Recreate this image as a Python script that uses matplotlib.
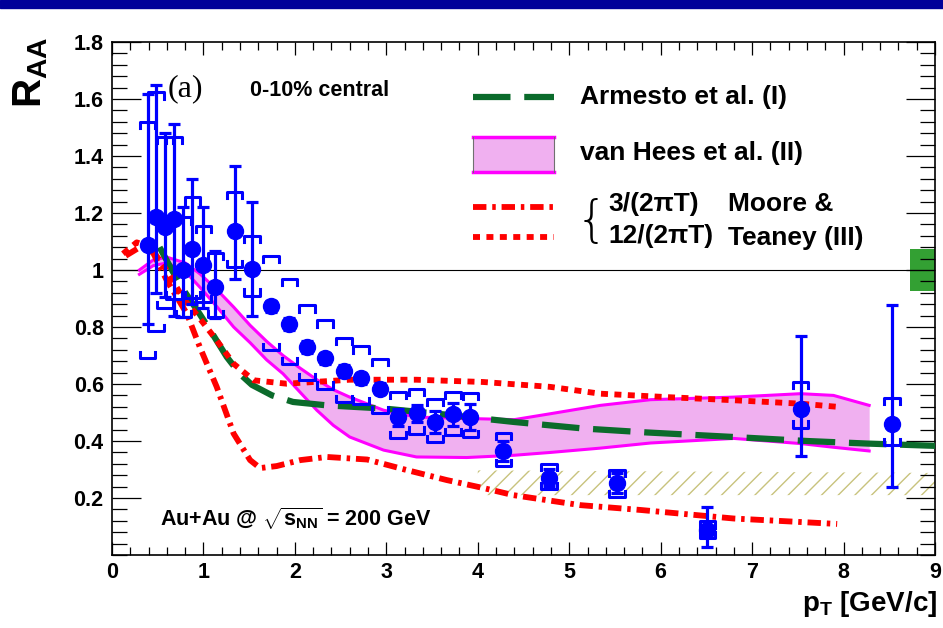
import matplotlib
matplotlib.use('Agg')
import matplotlib.pyplot as plt
from matplotlib.patches import Rectangle
from matplotlib.ticker import MultipleLocator

# ---- data ----
pt = [0.39, 0.48, 0.58, 0.68, 0.78, 0.88, 1.00, 1.13, 1.34, 1.53, 1.74, 1.94, 2.13, 2.33,
      2.54, 2.72, 2.93, 3.13, 3.33, 3.53, 3.73, 3.92, 4.28, 4.78, 5.52, 6.51, 7.53, 8.53]
raa = [1.086, 1.185, 1.150, 1.180, 1.000, 1.074, 1.016, 0.940, 1.138, 1.004, 0.872, 0.810, 0.730, 0.690,
       0.645, 0.620, 0.584, 0.484, 0.498, 0.467, 0.494, 0.484, 0.364, 0.271, 0.251, 0.088, 0.514, 0.459]
stat_up = [0.532, 0.465, 0.330, 0.334, 0.220, 0.246, 0.204, 0.128, 0.228, 0.233, 0.02, 0.02, 0.02, 0.02,
           0.02, 0.02, 0.02, 0.03, 0.03, 0.04, 0.04, 0.045, 0.035, 0.03, 0.035, 0.079, 0.253, 0.417]
stat_dn = [0.276, 0.265, 0.245, 0.340, 0.165, 0.194, 0.151, 0.110, 0.168, 0.164, 0.02, 0.02, 0.02, 0.02,
           0.02, 0.02, 0.02, 0.03, 0.03, 0.04, 0.04, 0.045, 0.035, 0.03, 0.035, 0.061, 0.167, 0.220]
syst_up = [0.434, 0.438, 0.317, 0.287, 0.185, 0.181, 0.140, 0.120, 0.135, 0.116, 0.178, 0.160, 0.146, 0.133,
           0.117, 0.112, 0.105, 0.088, 0.086, 0.082, 0.078, 0.085, 0.064, 0.050, 0.047, 0.030, 0.093, 0.093]
syst_dn = [0.396, 0.400, 0.285, 0.280, 0.165, 0.174, 0.129, 0.105, 0.128, 0.094, 0.154, 0.140, 0.117, 0.106,
           0.108, 0.091, 0.086, 0.075, 0.072, 0.070, 0.074, 0.070, 0.052, 0.041, 0.047, 0.030, 0.067, 0.074]

# Armesto et al. (I)
arm_x = [0.52, 0.74, 0.96, 1.11, 1.255, 1.40, 1.53, 1.75, 1.98, 2.35, 2.97, 3.55, 4.39, 5.15, 5.85, 6.80, 7.60, 8.26, 9.0]
arm_y = [1.08, 0.95, 0.845, 0.770, 0.695, 0.635, 0.597, 0.560, 0.537, 0.525, 0.514, 0.496, 0.467, 0.444, 0.430, 0.414, 0.400, 0.391, 0.383]

# van Hees et al. (II) band
vh_x = [0.30, 0.45, 0.60, 0.80, 0.96, 1.15, 1.33, 1.51, 1.69, 1.87, 2.06, 2.24, 2.42, 2.60, 2.97, 3.33,
        3.88, 4.40, 4.80, 5.34, 5.89, 6.80, 7.53, 7.89, 8.28]
vh_hi = [1.000, 1.035, 1.045, 1.025, 0.987, 0.930, 0.870, 0.806, 0.750, 0.700, 0.655, 0.615, 0.580, 0.554, 0.508, 0.484,
         0.479, 0.475, 0.496, 0.525, 0.545, 0.554, 0.566, 0.560, 0.525]
vh_lo = [0.985, 1.015, 1.025, 0.995, 0.940, 0.870, 0.800, 0.745, 0.685, 0.636, 0.570, 0.508, 0.455, 0.414, 0.368, 0.344,
         0.342, 0.350, 0.360, 0.375, 0.393, 0.409, 0.391, 0.378, 0.365]

# Moore & Teaney (III)
mt3_x = [0.15, 0.33, 0.45, 0.60, 0.82, 0.96, 1.145, 1.33, 1.51, 1.62, 1.80, 2.06, 2.35, 2.79, 3.20, 3.66, 4.06,
         4.39, 5.12, 5.78, 6.80, 7.93]
mt3_y = [1.05, 1.085, 1.06, 0.963, 0.846, 0.730, 0.590, 0.426, 0.333, 0.305, 0.312, 0.333, 0.344, 0.335, 0.300, 0.263,
         0.235, 0.210, 0.175, 0.158, 0.128, 0.109]
mt12_x = [0.12, 0.27, 0.42, 0.60, 0.78, 0.96, 1.145, 1.33, 1.55, 1.91, 2.60, 3.33, 4.06, 4.79, 5.34, 6.07, 6.80,
          7.53, 7.93]
mt12_y = [1.057, 1.097, 1.080, 0.998, 0.900, 0.830, 0.753, 0.671, 0.613, 0.601, 0.615, 0.615, 0.607, 0.590, 0.566,
          0.554, 0.543, 0.531, 0.520]

# hatched band and normalisation box
hatch_x = [4.0, 9.0]
hatch_lo = [0.21, 0.21]
hatch_hi = [0.297, 0.288]
norm_x = [8.73, 9.0]
norm_lo = 0.928
norm_hi = 1.072

# ---- style ----
plt.rcParams['font.family'] = ['Liberation Sans', 'DejaVu Sans']
plt.rcParams['font.weight'] = 'bold'
plt.rcParams['mathtext.fontset'] = 'custom'
plt.rcParams['mathtext.rm'] = 'Liberation Sans:bold'
plt.rcParams['mathtext.it'] = 'Liberation Sans:bold'
plt.rcParams['mathtext.bf'] = 'Liberation Sans:bold'
plt.rcParams['mathtext.sf'] = 'Liberation Sans:bold'
plt.rcParams['hatch.linewidth'] = 1.0

blue = '#0000ff'
green = '#0b6b2b'
red = '#ff0000'
pink = '#f0b0f0'
magenta = '#ff00ff'

fig = plt.figure(figsize=(9.43, 6.28), dpi=100)
ax = fig.add_axes([112 / 943, 1 - 555 / 628, (935 - 112) / 943, (555 - 42) / 628])
fig.patches.append(Rectangle((0, 1 - 8 / 628), 1, 8 / 628, transform=fig.transFigure,
                             color='#000099', zorder=10))

ax.fill_between(hatch_x, hatch_lo, hatch_hi, facecolor='none', edgecolor='#c8c37d',
                hatch='//', linewidth=0, zorder=1)
ax.fill_between(norm_x, norm_lo, norm_hi, color='#33a033', linewidth=0, zorder=1)
ax.axhline(1.0, color='black', lw=0.8, zorder=2)

ax.fill_between(vh_x, vh_lo, vh_hi, color=pink, linewidth=0, zorder=2)
ax.plot(vh_x, vh_hi, color=magenta, lw=2.2, zorder=2.1)
ax.plot(vh_x, vh_lo, color=magenta, lw=2.2, zorder=2.1)

ax.plot(arm_x, arm_y, color=green, lw=4.5, dashes=(6, 2.2), dash_capstyle='butt', zorder=3)
ax.plot(mt12_x, mt12_y, color=red, lw=4.2, dashes=(1.2, 1.1), dash_capstyle='butt', zorder=3)
ax.plot(mt3_x, mt3_y, color=red, lw=4.2, dashes=(2.3, 1.0, 0.6, 1.0), dash_capstyle='butt', zorder=3)

# systematic brackets
w, t = 0.085, 0.022
for x, y, su, sd in zip(pt, raa, syst_up, syst_dn):
    hi, lo = y + su, y - sd
    ax.plot([x - w, x - w, x + w, x + w], [hi - t, hi, hi, hi - t], color=blue, lw=2.2, zorder=4)
    ax.plot([x - w, x - w, x + w, x + w], [lo + t, lo, lo, lo + t], color=blue, lw=2.2, zorder=4)

ax.errorbar(pt, raa, yerr=[stat_dn, stat_up], fmt='o', color=blue, ms=11.5, elinewidth=2.3,
            capsize=4, capthick=2.3, zorder=5)

# axes
ax.set_xlim(0, 9)
ax.set_ylim(0, 1.8)
ax.xaxis.set_major_locator(MultipleLocator(1))
ax.xaxis.set_minor_locator(MultipleLocator(0.2))
ax.set_yticks([0.2, 0.4, 0.6, 0.8, 1.0, 1.2, 1.4, 1.6, 1.8])
ax.set_yticklabels(['0.2', '0.4', '0.6', '0.8', '1', '1.2', '1.4', '1.6', '1.8'])
ax.yaxis.set_minor_locator(MultipleLocator(0.04))
ax.tick_params(which='both', direction='in', top=True, right=True, width=0.9, labelsize=15.5)
ax.tick_params(axis='x', which='major', length=9.5, pad=5)
ax.tick_params(axis='x', which='minor', length=5.5)
ax.tick_params(axis='y', which='major', length=21, pad=6)
ax.tick_params(axis='y', which='minor', length=11)
for s in ax.spines.values():
    s.set_linewidth(1.2)

fig.text(31 / 943, 1 - 72 / 628, r'R$_{\mathrm{AA}}$', rotation=90, fontsize=29,
         ha='center', va='center')
fig.text(937 / 943, 1 - 604 / 628, r'p$_{\mathrm{T}}$ [GeV/c]', fontsize=20, ha='right', va='center')

# annotations
ax.text(0.61, 1.635, '(a)', family='Liberation Serif', fontweight='normal', fontsize=23, va='center')
ax.text(1.51, 1.629, '0-10% central', fontsize=15.5, va='center')
ax.text(0.53, 0.13, r'Au+Au @ $\sqrt{\mathrm{s_{NN}}}$ = 200 GeV', fontsize=15.5, va='center')

# legend (drawn by hand)
lx = [3.95, 4.83]
ax.plot(lx, [1.608, 1.608], color=green, lw=4.5, dashes=(6, 2.2), dash_capstyle='butt')
ax.text(5.12, 1.608, 'Armesto et al. (I)', fontsize=19, va='center')
ax.fill_between(lx, 1.345, 1.468, color=pink, linewidth=0)
ax.plot(lx, [1.468, 1.468], color=magenta, lw=2.5)
ax.plot(lx, [1.345, 1.345], color=magenta, lw=2.5)
ax.plot([lx[0], lx[0]], [1.345, 1.468], color='#707070', lw=0.8)
ax.plot([lx[1], lx[1]], [1.345, 1.468], color='#707070', lw=0.8)
ax.text(5.12, 1.41, 'van Hees et al. (II)', fontsize=19, va='center')
ax.plot(lx, [1.222, 1.222], color=red, lw=4.2, dashes=(2.3, 1.0, 0.6, 1.0), dash_capstyle='butt')
ax.plot(lx, [1.115, 1.115], color=red, lw=4.2, dashes=(1.2, 1.1), dash_capstyle='butt')
ax.text(5.24, 1.17, '{', fontsize=36, fontweight='light', family='DejaVu Sans', ha='center', va='center')
ax.text(5.43, 1.233, '3/(2\u03c0T)', fontsize=19, va='center')
ax.text(5.43, 1.118, '12/(2\u03c0T)', fontsize=19, va='center')
ax.text(6.74, 1.233, 'Moore &', fontsize=19, va='center')
ax.text(6.74, 1.112, 'Teaney (III)', fontsize=19, va='center')

fig.savefig('out.png', dpi=100)
